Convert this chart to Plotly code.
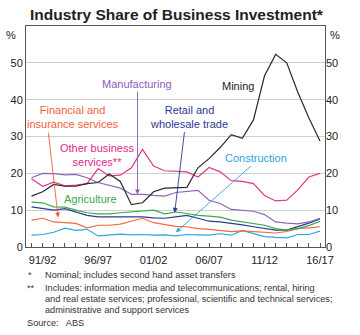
import plotly.graph_objects as go

years = list(range(1990, 2017))  # financial year starting 1990 -> "90/91"
year_labels = [f"{y % 100:02d}/{(y + 1) % 100:02d}" for y in years]
labelled_years = ["91/92", "96/97", "01/02", "06/07", "11/12", "16/17"]

mining = [13.8, 15.0, 17.0, 16.5, 16.5, 17.2, 17.5, 19.8, 17.8, 11.5, 12.0, 15.0, 16.0, 16.0,
          16.2, 21.5, 24.0, 27.0, 30.5, 29.5, 34.5, 46.5, 52.3, 50.0, 42.0, 35.0, 28.8]
manufacturing = [18.8, 20.0, 19.9, 19.6, 19.7, 18.8, 17.5, 16.8, 16.0, 14.3, 14.3, 14.0, 13.8, 14.8,
                 15.2, 15.4, 12.7, 11.8, 10.2, 10.0, 9.7, 8.8, 6.8, 6.5, 6.3, 6.8, 7.8]
other_business = [18.5, 16.5, 17.6, 16.6, 16.8, 17.2, 21.3, 19.3, 19.5, 21.5, 26.5, 22.0, 20.7, 20.6,
                  20.4, 19.0, 21.6, 20.4, 18.0, 17.8, 17.2, 14.0, 12.5, 12.7, 15.5, 19.0, 20.0]
financial = [7.3, 7.8, 6.8, 6.7, 6.4, 5.2, 5.9, 5.9, 6.2, 7.0, 7.8, 6.6, 6.0, 5.6,
             5.5, 5.0, 4.8, 4.6, 4.2, 4.4, 4.2, 3.9, 3.8, 4.2, 5.0, 5.2, 5.5]
agriculture = [12.2, 12.0, 10.9, 10.8, 10.0, 9.3, 9.0, 9.0, 9.3, 9.5, 9.7, 10.0, 9.0, 9.5,
               9.1, 8.6, 8.4, 8.1, 7.3, 6.8, 6.3, 5.9, 5.0, 4.6, 5.0, 5.8, 7.0]
retail = [10.9, 10.5, 10.0, 10.4, 9.5, 8.6, 8.2, 8.2, 8.4, 8.4, 8.2, 7.9, 7.8, 8.2,
          8.6, 7.8, 7.0, 6.8, 6.3, 6.0, 5.5, 5.0, 4.6, 4.6, 5.5, 6.5, 7.6]
construction = [3.2, 3.4, 4.0, 5.1, 4.5, 4.8, 3.0, 3.2, 3.5, 3.3, 3.4, 3.2, 3.3, 3.0,
                3.4, 3.3, 3.2, 3.6, 3.2, 4.5, 3.6, 2.8, 2.6, 2.5, 3.4, 3.4, 4.3]

y_ticks = [0, 10, 20, 30, 40, 50]

FONT = "Liberation Sans, Arial, Helvetica, sans-serif"

series = [
    ("Construction", construction, "#2ea7de"),
    ("Financial and insurance services", financial, "#f26a3a"),
    ("Retail and wholesale trade", retail, "#2e3a8f"),
    ("Agriculture", agriculture, "#3aaa48"),
    ("Manufacturing", manufacturing, "#8e66b8"),
    ("Other business services", other_business, "#e0358a"),
    ("Mining", mining, "#2a2a2a"),
]

fig = go.Figure()
for name, vals, col in series:
    fig.add_trace(go.Scatter(x=years, y=vals, mode="lines", name=name,
                             line=dict(color=col, width=1.2), hoverinfo="skip"))
# transparent trace to activate the right-hand axis
fig.add_trace(go.Scatter(x=years, y=mining, yaxis="y2", mode="lines",
                         line=dict(color="rgba(0,0,0,0)", width=0), hoverinfo="skip",
                         showlegend=False))

ticktext = [lab if lab in labelled_years else "" for lab in year_labels]

fig.update_layout(
    width=360, height=335,
    margin=dict(l=26, r=35, t=26, b=88),
    paper_bgcolor="white", plot_bgcolor="white",
    showlegend=False,
    font=dict(family=FONT, size=11, color="#222"),
    title=dict(text="<b>Industry Share of Business Investment*</b>",
               x=0.49, xanchor="center", y=1 - 15 / 335, yanchor="middle",
               font=dict(family=FONT, size=15.5, color="#222")),
    xaxis=dict(range=[1989.5, 2016.45], tickvals=years, ticktext=ticktext,
               ticks="inside", ticklen=4, tickcolor="#555", tickwidth=1,
               ticklabelstandoff=3,
               showgrid=False, showline=True, linecolor="#555", linewidth=1,
               mirror=True, zeroline=False, tickfont=dict(size=11, color="#222")),
    yaxis=dict(range=[0, 60], tickvals=y_ticks, showgrid=True, gridcolor="#cfcfcf",
               gridwidth=1, showline=True, linecolor="#555", linewidth=1, mirror=True,
               zeroline=False, ticks="", tickfont=dict(size=11, color="#222")),
    yaxis2=dict(range=[0, 60], tickvals=y_ticks, overlaying="y", side="right",
                showgrid=False, zeroline=False, showline=False, ticks="",
                tickfont=dict(size=11, color="#222")),
)

ann = []
# % labels
ann.append(dict(text="%", xref="paper", yref="paper", x=-0.027, y=1.0, xanchor="right",
                yanchor="top", showarrow=False, font=dict(size=11, color="#222"), yshift=-1))
ann.append(dict(text="%", xref="paper", yref="paper", x=1.01, y=1.0, xanchor="left",
                yanchor="top", showarrow=False, font=dict(size=11, color="#222"), yshift=-1))

labels = [
    ("Mining", 2008.6, 43.8, "#222"),
    ("Manufacturing", 1999.5, 44.3, "#8e5db8"),
    ("Financial and<br>insurance services", 1993.7, 35.3, "#f2603a"),
    ("Other business<br>services**", 1995.9, 25.0, "#e0288a"),
    ("Retail and<br>wholesale trade", 2004.2, 35.4, "#2b3990"),
    ("Construction", 2010.2, 24.3, "#2ea5de"),
    ("Agriculture", 1995.3, 13.0, "#3aaa48"),
]
for t, x, y, c in labels:
    ann.append(dict(text=t, x=x, y=y, xref="x", yref="y", showarrow=False,
                    font=dict(size=11, color=c), align="center"))

arrows = [
    # tip x, tip y, tail x, tail y, color
    (1999.55, 14.3, 1999.55, 42.6, "#8e5db8"),
    (1992.4, 8.0, 1991.5, 31.4, "#f2603a"),
    (2002.9, 9.3, 2003.8, 31.6, "#2b3990"),
    (2003.0, 4.0, 2009.9, 22.3, "#2ea5de"),
]
for x, y, ax, ay, c in arrows:
    ann.append(dict(text="", x=x, y=y, ax=ax, ay=ay, xref="x", yref="y",
                    axref="x", ayref="y", showarrow=True, arrowhead=2,
                    arrowsize=1.1, arrowwidth=0.9, arrowcolor=c))

foot = [
    ("*", 26, 275), ("Nominal; includes second hand asset transfers", 43, 275),
    ("**", 25, 288),
    ("Includes: information media and telecommunications; rental, hiring", 43, 288),
    ("and real estate services; professional, scientific and technical services;", 43, 299),
    ("administrative and support services", 43, 310),
    ("Source:   ABS", 25, 323),
]
for t, px, py in foot:
    ann.append(dict(text=t, xref="paper", yref="paper",
                    x=(px - 26) / 299, y=(335 - 88 - py) / 221,
                    xanchor="left", yanchor="middle", showarrow=False,
                    font=dict(size=9.2, color="#333")))

fig.update_layout(annotations=ann)
fig.write_html("out.html")
